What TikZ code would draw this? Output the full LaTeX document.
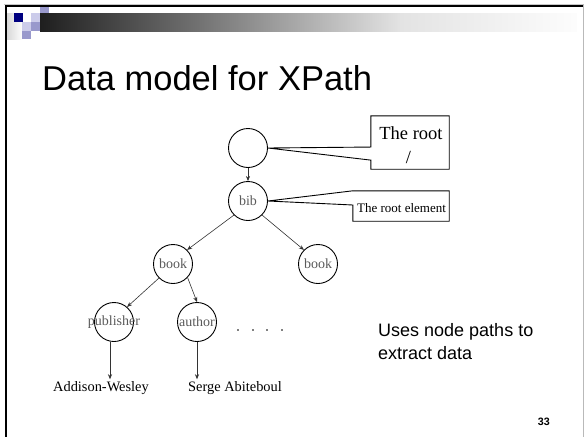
\documentclass[tikz,border=0pt]{standalone}
\usepackage{fontspec}
\setmainfont{Liberation Serif}
\newfontfamily\arialfont{Liberation Sans}
\usetikzlibrary{arrows.meta,calc}
\definecolor{navy}{HTML}{000080}
\definecolor{lavlight}{HTML}{CCCCEA}
\definecolor{lavmid}{HTML}{9999CC}
\definecolor{labelgray}{HTML}{5A5A5A}
\definecolor{edgegray}{HTML}{333333}

\begin{document}
\begin{tikzpicture}[x=1pt,y=-1pt,
  treenode/.style={circle,draw=black,line width=0.9pt,minimum size=39pt,inner sep=0pt},
  nodetext/.style={font=\fontsize{14}{16}\selectfont,text=labelgray},
  leaftext/.style={font=\fontsize{14.4}{16}\selectfont,inner sep=2pt},
  edge/.style={draw=edgegray,line width=0.6pt,-{Stealth[length=5pt,width=4pt]}},
  callout/.style={draw=black,line width=0.9pt,line join=miter},
  boxarea/.style={rectangle,inner sep=0pt},
  slidetext/.style={font=\arialfont\fontsize{18}{21}\selectfont,anchor=base west,inner sep=0pt}]

\useasboundingbox (0,0) rectangle (584,437);

% slide frame
\draw[line width=1pt,gray!45] (4,4) -- (583,4);
\draw[line width=1pt,gray!55] (583,4) -- (583,437);
\draw[line width=2pt,black] (6,5.7) -- (583,5.7);
\draw[line width=2pt,black] (6,5) -- (6,437);

% header band
\shade[left color=gray!30,right color=white] (7,13) rectangle (23,39);
\shade[left color=black!88,right color=black!55] (40,13) rectangle (200.5,31);
\shade[left color=black!55,right color=black!11] (200,13) rectangle (400.5,31);
\shade[left color=black!11,right color=black!1] (400,13) rectangle (577,31);

% pixel squares
\fill[navy] (14,13) rectangle (23,22);
\fill[lavlight] (31,13) rectangle (40,22);
\fill[lavmid] (40,7) rectangle (49,13);
\fill[lavlight] (22,22) rectangle (31,31);
\fill[lavmid] (31,22) rectangle (40,31);
\fill[lavmid] (22,31) rectangle (31,39);

% title
\node[anchor=base west,inner sep=0pt,font=\arialfont\fontsize{34.5}{40}\selectfont] (title) at (42,90.5) {Data model for XPath};

% tree
\node[treenode] (root) at (248,148) {};
\node[treenode,label={[nodetext]center:bib}] (bib) at (248,201) {};
\node[treenode,label={[nodetext]center:book}] (bookL) at (173,264) {};
\node[treenode,label={[nodetext]center:book}] (bookR) at (318,264) {};
\node[treenode,label={[nodetext]center:publisher}] (pub) at (114,322) {};
\node[treenode,label={[nodetext]center:author}] (author) at (197,322) {};

\node[leaftext] (aw) at (101,388) {Addison-Wesley};
\node[leaftext] (sa) at (235,388) {Serge Abiteboul};

\draw[edge] (root.south) -- (bib.north);
\draw[edge] (bib.225) -- (bookL.45);
\draw[edge] (bib.-45) -- (bookR.135);
\draw[edge] (bookL.225) -- (pub.49);
\draw[edge] (bookL.-43) -- (author.north);
\draw[edge] ([xshift=-4pt]pub.south) -- ([xshift=-4pt]pub.south |- aw.north);
\draw[edge] (author.south) -- (author.south |- sa.north);

% ellipsis between siblings
\foreach \x in {238,253,267,282} \fill (\x,330) circle (0.9);

% callouts
\node[boxarea,minimum width=78pt,minimum height=53pt] (rootbox) at (410,142.5) {};
\draw[callout] (rootbox.north west) -- (rootbox.north east) -- (rootbox.south east)
  -- (rootbox.south west) -- ($(rootbox.north west)!0.83!(rootbox.south west)$)
  -- (root.east) -- ($(rootbox.north west)!0.585!(rootbox.south west)$) -- cycle;
\node[anchor=base,inner sep=0pt,font=\fontsize{18.5}{20}\selectfont] (roottxt) at (411,139.5) {The root};
\node[inner sep=0pt,font=\fontsize{18.5}{20}\selectfont] (slash) at (408.5,157) {/};

\node[boxarea,minimum width=96pt,minimum height=30pt] (elembox) at (401,206) {};
\draw[callout] (elembox.north west) -- (elembox.north east) -- (elembox.south east)
  -- (elembox.south west) -- ($(elembox.north west)!0.467!(elembox.south west)$)
  -- (bib.east) -- cycle;
\node[anchor=base,inner sep=0pt,font=\fontsize{13}{15}\selectfont] (elemtxt) at (401.5,212) {The root element};

% side note
\node[slidetext] (note1) at (378,336) {Uses node paths to};
\node[slidetext] (note2) at (378,359) {extract data};

% page number
\node[anchor=base east,inner sep=0pt,font=\arialfont\bfseries\fontsize{10.7}{12}\selectfont] (pagenum) at (550,425) {33};
\end{tikzpicture}
\end{document}
